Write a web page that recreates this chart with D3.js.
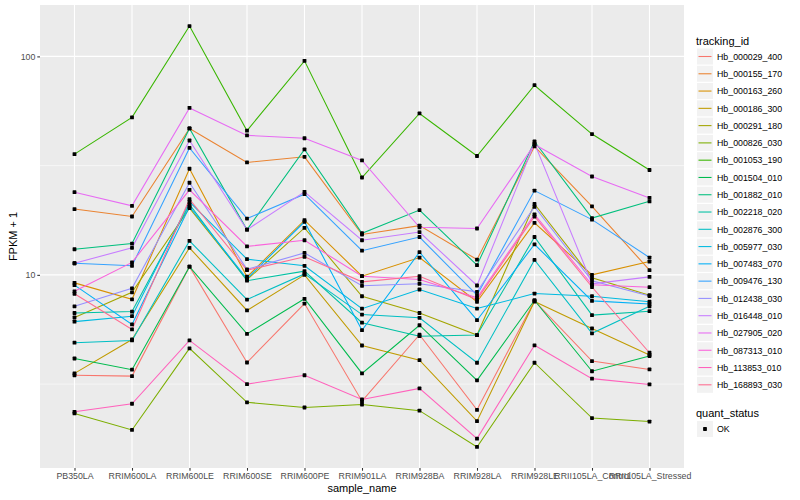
<!DOCTYPE html>
<html>
<head>
<meta charset="utf-8">
<script src="https://cdn.jsdelivr.net/npm/d3@7"></script>
<style>
  body { margin: 0; background: #fff; }
  svg { font-family: "Liberation Sans", Arial, sans-serif; }
</style>
</head>
<body>
<div id="chart"></div>
<script>
// samples on the x axis
const samples = ["PB350LA", "RRIM600LA", "RRIM600LE", "RRIM600SE", "RRIM600PE", "RRIM901LA",
  "RRIM928BA", "RRIM928LA", "RRIM928LE", "RRII105LA_Control", "RRII105LA_Stressed"];

const trackingIds = ["Hb_000029_400", "Hb_000155_170", "Hb_000163_260", "Hb_000186_300", "Hb_000291_180",
  "Hb_000826_030", "Hb_001053_190", "Hb_001504_010", "Hb_001882_010", "Hb_002218_020",
  "Hb_002876_300", "Hb_005977_030", "Hb_007483_070", "Hb_009476_130", "Hb_012438_030",
  "Hb_016448_010", "Hb_027905_020", "Hb_087313_010", "Hb_113853_010", "Hb_168893_030"];

// FPKM + 1, one array per gene, in sample order
const hb000029_400 = [3.47, 3.44, 10.9, 3.97, 7.39, 2.64, 5.32, 2.41, 7.6, 4.03, 3.69];
const hb000155_170 = [20.0, 18.5, 46.8, 32.7, 34.7, 15.3, 16.8, 11.75, 38.7, 20.6, 10.5];
const hb000163_260 = [9.19, 7.73, 30.6, 9.8, 17.8, 9.86, 12.0, 7.53, 17.3, 10.0, 11.5];
const hb000186_300 = [3.54, 5.06, 13.3, 6.87, 10.0, 4.75, 4.07, 2.14, 7.55, 5.68, 4.3];
const hb000291_180 = [6.38, 8.32, 20.2, 9.5, 16.4, 7.98, 6.69, 5.3, 21.1, 9.69, 8.07];
const hb000826_030 = [2.32, 1.95, 4.61, 2.61, 2.47, 2.55, 2.39, 1.63, 3.96, 2.21, 2.13];
const hb001053_190 = [35.7, 52.6, 137.7, 45.7, 95.4, 27.9, 54.8, 35.0, 73.8, 44.1, 30.2];
const hb001504_010 = [4.14, 3.68, 10.9, 5.37, 7.77, 3.54, 5.88, 3.29, 7.65, 3.62, 4.25];
const hb001882_010 = [13.1, 13.9, 46.8, 16.1, 37.5, 15.5, 19.8, 11.07, 40.8, 18.2, 21.7];
const hb002218_020 = [6.69, 6.79, 21.0, 9.4, 10.4, 6.04, 5.24, 5.3, 14.9, 6.54, 6.82];
const hb002876_300 = [4.89, 5.01, 14.3, 7.71, 10.1, 6.58, 6.36, 3.96, 11.7, 5.4, 7.18];
const hb005977_030 = [6.11, 6.47, 21.6, 11.8, 11.0, 7.0, 8.57, 7.01, 8.21, 7.98, 7.53];
const hb007483_070 = [8.97, 5.93, 20.5, 9.6, 17.5, 5.58, 12.7, 6.2, 13.8, 7.6, 7.35];
const hb009476_130 = [11.3, 11.0, 38.1, 18.1, 23.4, 12.9, 14.9, 8.07, 24.3, 17.9, 12.0];
const hb012438_030 = [7.18, 8.68, 26.4, 10.6, 12.6, 8.91, 9.1, 8.36, 20.5, 9.4, 8.0];
const hb016448_010 = [11.3, 13.3, 41.2, 16.1, 24.0, 14.4, 15.7, 8.94, 40.0, 9.1, 9.79];
const hb027905_020 = [23.9, 20.7, 58.1, 43.5, 42.2, 33.4, 16.5, 16.3, 39.5, 28.2, 22.5];
const hb087313_010 = [8.41, 11.4, 24.5, 13.5, 14.4, 9.86, 9.52, 7.85, 18.9, 9.0, 8.78];
const hb113853_010 = [2.36, 2.57, 5.01, 3.16, 3.47, 2.69, 3.02, 1.78, 4.76, 3.35, 3.15];
const hb168893_030 = [8.19, 5.63, 22.2, 10.5, 12.1, 9.29, 9.86, 7.7, 18.5, 8.8, 4.4];

const seriesValues = [hb000029_400, hb000155_170, hb000163_260, hb000186_300, hb000291_180,
  hb000826_030, hb001053_190, hb001504_010, hb001882_010, hb002218_020,
  hb002876_300, hb005977_030, hb007483_070, hb009476_130, hb012438_030,
  hb016448_010, hb027905_020, hb087313_010, hb113853_010, hb168893_030];

const yTicks = [10, 100];
const quantStatus = ["OK"];

// ggplot default hue palette, 20 levels
const palette = ["#F8766D", "#EA8331", "#D89000", "#C09B00", "#A3A500", "#7CAE00", "#39B600",
  "#00BB4E", "#00BF7D", "#00C1A3", "#00BFC4", "#00BAE0", "#00B0F6", "#35A2FF", "#9590FF",
  "#C77CFF", "#E76BF3", "#FA62DB", "#FF62BC", "#FF6C91"];

const W = 800, H = 500;
const panel = { left: 40, right: 684, top: 5, bottom: 468 };
const pt = 3.8; // point size

const series = trackingIds.map((id, i) => ({
  id: id,
  values: samples.map((s, j) => ({ sample: s, v: seriesValues[i][j] }))
}));

const allVals = seriesValues.flat();
const lmin = Math.log10(d3.min(allVals)), lmax = Math.log10(d3.max(allVals));
const pad = (lmax - lmin) * 0.05;

const x = d3.scalePoint().domain(samples).range([panel.left, panel.right]).padding(0.6);
const y = d3.scaleLog().domain([Math.pow(10, lmin - pad), Math.pow(10, lmax + pad)])
  .range([panel.bottom, panel.top]);
const color = d3.scaleOrdinal().domain(trackingIds).range(palette);

const svg = d3.select("#chart").append("svg").attr("width", W).attr("height", H);

svg.append("rect").attr("x", panel.left).attr("y", panel.top)
  .attr("width", panel.right - panel.left).attr("height", panel.bottom - panel.top)
  .attr("fill", "#EBEBEB");

// minor grid (log10 midpoints)
const minor = [Math.pow(10, 0.5), Math.pow(10, 1.5), Math.pow(10, 2.5)]
  .filter(d => d > y.domain()[0] && d < y.domain()[1]);
svg.append("g").selectAll("line").data(minor).join("line")
  .attr("x1", panel.left).attr("x2", panel.right)
  .attr("y1", d => y(d)).attr("y2", d => y(d))
  .attr("stroke", "#fff").attr("stroke-width", 0.55);

svg.append("g").selectAll("line").data(yTicks).join("line")
  .attr("x1", panel.left).attr("x2", panel.right)
  .attr("y1", d => y(d)).attr("y2", d => y(d))
  .attr("stroke", "#fff").attr("stroke-width", 1.1);

svg.append("g").selectAll("line").data(samples).join("line")
  .attr("x1", d => x(d)).attr("x2", d => x(d))
  .attr("y1", panel.top).attr("y2", panel.bottom)
  .attr("stroke", "#fff").attr("stroke-width", 1.1);

const line = d3.line().x(d => x(d.sample)).y(d => y(d.v));

svg.append("g").selectAll("path").data(series).join("path")
  .attr("d", d => line(d.values))
  .attr("fill", "none")
  .attr("stroke", d => color(d.id))
  .attr("stroke-width", 1.07);

svg.append("g").selectAll("rect").data(series.flatMap(s => s.values)).join("rect")
  .attr("x", d => x(d.sample) - pt / 2).attr("y", d => y(d.v) - pt / 2)
  .attr("width", pt).attr("height", pt).attr("rx", 0.6).attr("fill", "#000");

// axes
const yAxis = svg.append("g").attr("transform", `translate(${panel.left},0)`)
  .call(d3.axisLeft(y).tickValues(yTicks).tickFormat(d3.format("d")).tickSize(2.7).tickPadding(2));
const xAxis = svg.append("g").attr("transform", `translate(0,${panel.bottom})`)
  .call(d3.axisBottom(x).tickSize(2.7).tickPadding(2));
[yAxis, xAxis].forEach(a => {
  a.select(".domain").remove();
  a.selectAll(".tick line").attr("stroke", "#333").attr("stroke-width", 1.07);
  a.selectAll(".tick text").attr("fill", "#4D4D4D").attr("font-size", 8.8)
    .attr("font-family", "Liberation Sans, Arial, sans-serif");
});

svg.append("text").attr("x", (panel.left + panel.right) / 2).attr("y", 492)
  .attr("text-anchor", "middle").attr("font-size", 11).text("sample_name");
svg.append("text")
  .attr("transform", `translate(17,${(panel.top + panel.bottom) / 2}) rotate(-90)`)
  .attr("text-anchor", "middle").attr("font-size", 11).text("FPKM + 1");

// legend: tracking_id
const leg = svg.append("g").attr("transform", "translate(697,0)");
leg.append("text").attr("x", -1).attr("y", 44.5).attr("font-size", 11).text("tracking_id");
const keyH = 17.28, key0 = 48.5;
const items = leg.selectAll("g.item").data(trackingIds).join("g").attr("class", "item")
  .attr("transform", (d, i) => `translate(0,${key0 + i * keyH})`);
items.append("rect").attr("width", 16).attr("height", 16).attr("fill", "#F2F2F2");
items.append("line").attr("x1", 1.5).attr("x2", 14.5).attr("y1", 8).attr("y2", 8)
  .attr("stroke", d => color(d)).attr("stroke-width", 1.07);
items.append("text").attr("x", 20).attr("y", 11.3).attr("font-size", 8.8).text(d => d);

// legend: quant_status
leg.append("text").attr("x", -1).attr("y", 416.5).attr("font-size", 11).text("quant_status");
const q = leg.selectAll("g.q").data(quantStatus).join("g").attr("class", "q")
  .attr("transform", (d, i) => `translate(0,${421 + i * keyH})`);
q.append("rect").attr("width", 16).attr("height", 16).attr("fill", "#F2F2F2");
q.append("rect").attr("x", 8 - pt / 2).attr("y", 8 - pt / 2).attr("width", pt).attr("height", pt)
  .attr("rx", 0.6).attr("fill", "#000");
q.append("text").attr("x", 20).attr("y", 11.3).attr("font-size", 8.8).text(d => d);
</script>
</body>
</html>
